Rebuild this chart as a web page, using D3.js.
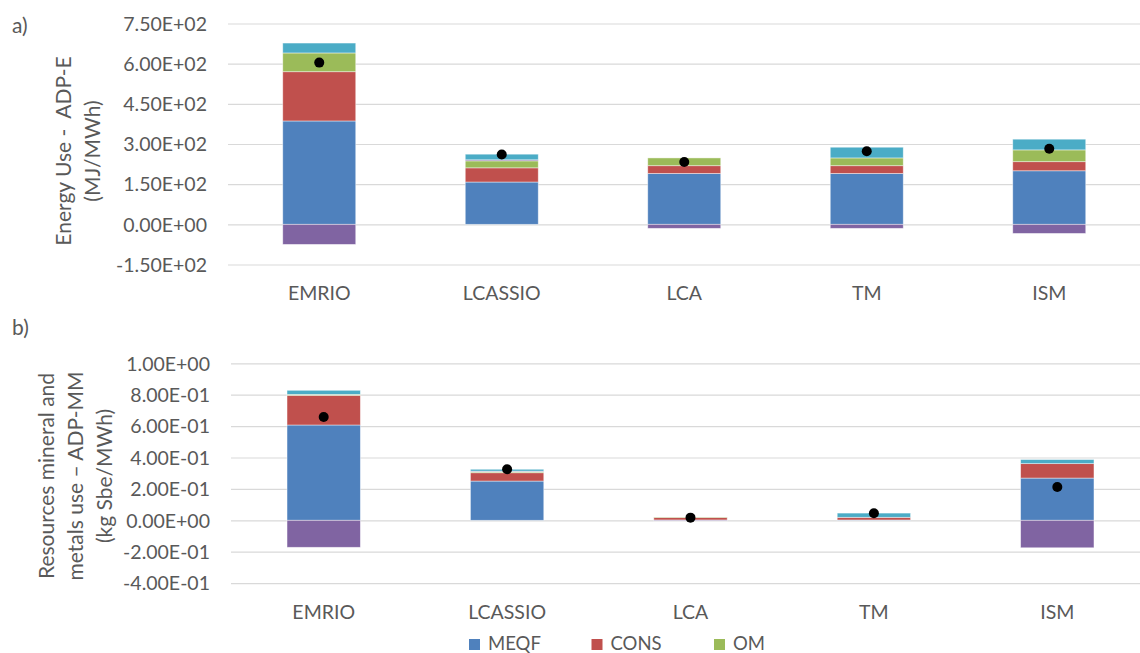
<!DOCTYPE html>
<html>
<head>
<meta charset="utf-8">
<script src="https://cdn.jsdelivr.net/npm/d3@7"></script>
<style>
  html, body { margin: 0; padding: 0; background: #ffffff; }
  svg { display: block; }
  text { font-family: Lato, "Open Sans", "Noto Sans", sans-serif; fill: #595959; }
</style>
</head>
<body>
<svg id="chart" width="1140" height="653"></svg>
<script>
// Technologies compared in both panels
const categories = ["EMRIO", "LCASSIO", "LCA", "TM", "ISM"];

// Stack components, in stacking order
const seriesNames = ["MEQF", "CONS", "OM", "EOL", "DECOM"];
const seriesColors = ["#4F81BD", "#C0504D", "#9BBB59", "#8064A2", "#4BACC6"];
const legendNames = ["MEQF", "CONS", "OM"];

// a) Energy use, ADP-E (MJ/MWh)
const energyMEQF  = [386, 158, 190, 190, 200];
const energyCONS  = [184, 53, 29, 29, 34];
const energyOM    = [70, 26, 29, 29, 44];
const energyEOL   = [-75, 4, -15, -15, -34];
const energyDECOM = [37, 21, 0, 40, 40];
const energyNet   = [604, 261, 233, 273, 282];
const energyTicks = [-150, 0, 150, 300, 450, 600, 750];

// b) Mineral and metal resource use, ADP-MM (kg Sbe/MWh)
const mineralMEQF  = [0.607, 0.250, 0.002, 0.002, 0.269];
const mineralCONS  = [0.189, 0.053, 0.016, 0.017, 0.092];
const mineralOM    = [0.006, 0.006, 0.003, 0.000, 0.000];
const mineralEOL   = [-0.172, 0.004, -0.004, 0.000, -0.175];
const mineralDECOM = [0.026, 0.012, 0.000, 0.027, 0.026];
const mineralNet   = [0.658, 0.325, 0.017, 0.045, 0.212];
const mineralTicks = [-0.4, -0.2, 0, 0.2, 0.4, 0.6, 0.8, 1.0];

const svg = d3.select("#chart");

// Excel-style scientific labels, e.g. 7.50E+02
function sci(v) {
  const [m, e] = v.toExponential(2).split("e");
  const sign = e[0] === "-" ? "-" : "+";
  const digits = e.replace(/[+-]/, "").padStart(2, "0");
  return m + "E" + sign + digits;
}

function drawPanel(opt) {
  const rows = categories.map((c, i) => {
    const r = { cat: c };
    seriesNames.forEach((s, k) => { r[s] = opt.values[k][i]; });
    r.net = opt.net[i];
    return r;
  });

  const x = d3.scaleBand()
    .domain(categories)
    .range([opt.x0, opt.x1])
    .paddingInner(0.6)
    .paddingOuter(0.3);

  const y = d3.scaleLinear()
    .domain([opt.ticks[0], opt.ticks[opt.ticks.length - 1]])
    .range([opt.yBottom, opt.yTop]);

  const g = svg.append("g");

  // Gridlines and value labels
  const axis = g.append("g")
    .attr("transform", `translate(${opt.gridX},0)`)
    .call(d3.axisLeft(y)
      .tickValues(opt.ticks)
      .tickFormat(sci)
      .tickSizeInner(-(1140 - opt.gridX))
      .tickSizeOuter(0)
      .tickPadding(21));
  axis.select(".domain").remove();
  axis.selectAll(".tick line").attr("stroke", "#d9d9d9").attr("stroke-width", 1.2);
  axis.selectAll(".tick text")
    .attr("fill", "#595959")
    .style("font-size", "19.5px")
    .attr("dy", "0.35em");

  // Stacked bars; negative parts hang below zero
  const stacked = d3.stack()
    .keys(seriesNames)
    .offset(d3.stackOffsetDiverging)(rows);

  g.append("g").selectAll("g")
    .data(stacked)
    .join("g")
      .attr("fill", (d, i) => seriesColors[i])
    .selectAll("rect")
    .data(d => d)
    .join("rect")
      .attr("x", d => x(d.data.cat))
      .attr("width", x.bandwidth())
      .attr("y", d => y(Math.max(d[0], d[1])))
      .attr("height", d => Math.abs(y(d[0]) - y(d[1])))
      .attr("stroke", "#ffffff")
      .attr("stroke-opacity", 0.55)
      .attr("stroke-width", 0.8);

  // Net total markers
  g.append("g").selectAll("circle")
    .data(rows)
    .join("circle")
      .attr("cx", d => x(d.cat) + x.bandwidth() / 2)
      .attr("cy", d => y(d.net))
      .attr("r", 5)
      .attr("fill", "#000000");

  // Category labels
  const xAxis = g.append("g")
    .attr("transform", `translate(0,${opt.catY})`)
    .call(d3.axisBottom(x).tickSize(0).tickPadding(0));
  xAxis.select(".domain").remove();
  xAxis.selectAll(".tick text")
    .attr("fill", "#595959")
    .attr("y", 0)
    .attr("dy", 0)
    .style("font-size", "19.5px");

  // Rotated axis title
  const title = g.append("text")
    .attr("transform", `translate(${opt.titleX},${opt.titleY}) rotate(-90)`)
    .attr("text-anchor", "middle")
    .style("font-size", "21px")
    .style("white-space", "pre");
  opt.title.forEach((line, i) => {
    title.append("tspan")
      .attr("x", 0)
      .attr("y", i * 29)
      .text(line);
  });

  // Panel letter
  g.append("text")
    .attr("x", 12)
    .attr("y", opt.letterY)
    .style("font-size", "21px")
    .text(opt.letter);
}

drawPanel({
  values: [energyMEQF, energyCONS, energyOM, energyEOL, energyDECOM],
  net: energyNet,
  ticks: energyTicks,
  x0: 228, x1: 1140.5, gridX: 228,
  yTop: 23.5, yBottom: 264.5,
  catY: 300,
  title: ["Energy Use -  ADP-E", "(MJ/MWh)"],
  titleX: 71, titleY: 151,
  letter: "a)", letterY: 33
});

drawPanel({
  values: [mineralMEQF, mineralCONS, mineralOM, mineralEOL, mineralDECOM],
  net: mineralNet,
  ticks: mineralTicks,
  x0: 232, x1: 1149, gridX: 231,
  yTop: 363.3, yBottom: 583.1,
  catY: 619,
  title: ["Resources mineral and", "metals use \u2013 ADP-MM", "(kg Sbe/MWh)"],
  titleX: 54, titleY: 476,
  letter: "b)", letterY: 335
});

// Legend
const lx = d3.scalePoint().domain(legendNames).range([469, 714]);
const legend = svg.append("g").selectAll("g")
  .data(legendNames)
  .join("g")
    .attr("transform", d => `translate(${lx(d)},639)`);
legend.append("rect")
  .attr("width", 11)
  .attr("height", 11)
  .attr("fill", d => seriesColors[seriesNames.indexOf(d)]);
legend.append("text")
  .attr("x", 19)
  .attr("y", 10.5)
  .style("font-size", "18.5px")
  .text(d => d);
</script>
</body>
</html>
